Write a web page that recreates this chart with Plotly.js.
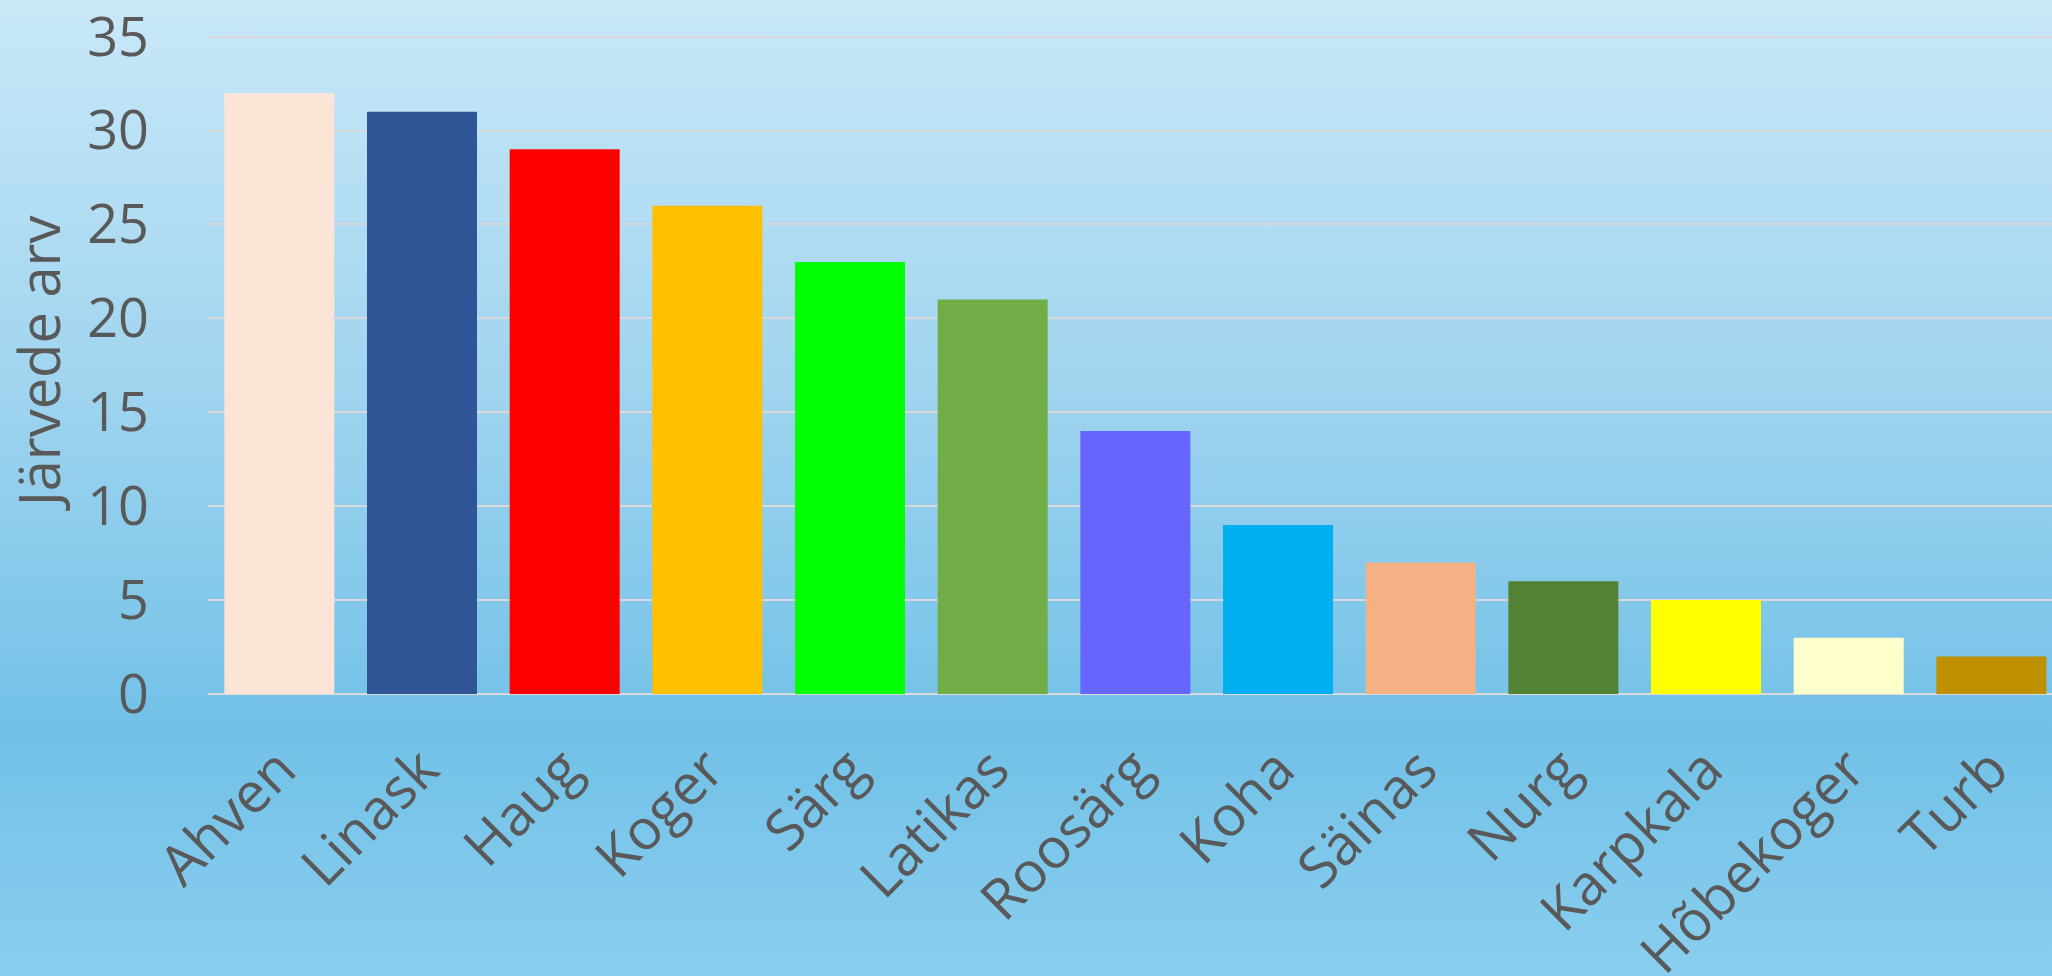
<!DOCTYPE html>
<html>
<head>
<meta charset="utf-8">
<script src="https://cdn.plot.ly/plotly-3.0.1.min.js"></script>
<style>
  html, body { margin: 0; padding: 0; }
  #chart {
    width: 2052px; height: 976px;
    background: linear-gradient(to bottom, #c9e8f8 0%, #9fd4ef 40%, #72c1e8 75%, #89ceee 100%);
  }
</style>
</head>
<body>
<div id="chart"></div>
<script>
const categories = ["Ahven", "Linask", "Haug", "Koger", "Särg", "Latikas", "Roosärg", "Koha", "Säinas", "Nurg", "Karpkala", "Hõbekoger", "Turb"];
const values = [32, 31, 29, 26, 23, 21, 14, 9, 7, 6, 5, 3, 2];
const barColors = ["#FCE4D6", "#2F5597", "#FF0000", "#FFC000", "#00FF00", "#70AD47", "#6666FF", "#00B0F0", "#F4B183", "#548235", "#FFFF00", "#FFFFCC", "#BF9000"];
const yTicks = [0, 5, 10, 15, 20, 25, 30, 35];
const yTitle = "Järvede arv";

const fontFamily = "'Open Sans', Lato, sans-serif";
const textColor = "#595959";

const trace = {
  type: "bar",
  x: categories,
  y: values,
  marker: { color: barColors, line: { width: 0 } },
  hoverinfo: "x+y"
};

const layout = {
  width: 2052,
  height: 976,
  margin: { l: 208, r: 0, t: 28, b: 282, pad: 0 },
  paper_bgcolor: "rgba(0,0,0,0)",
  plot_bgcolor: "rgba(0,0,0,0)",
  bargap: 0.229,
  showlegend: false,
  font: { family: fontFamily, color: textColor },
  xaxis: {
    type: "category",
    range: [-0.5, 12.425],
    tickangle: -45,
    tickfont: { size: 56, color: textColor, family: fontFamily },
    ticks: "",
    ticklabelstandoff: 30,
    ticklabeloverflow: "allow",
    showgrid: false,
    showline: false,
    zeroline: false,
    automargin: false,
    fixedrange: true
  },
  yaxis: {
    range: [0, 35.46],
    tickvals: yTicks,
    ticktext: yTicks.map(String),
    tickfont: { size: 54, color: textColor, family: fontFamily },
    ticks: "",
    ticklabelstandoff: 58,
    ticklabeloverflow: "allow",
    showgrid: true,
    gridcolor: "#D9D9D9",
    gridwidth: 2,
    zeroline: true,
    zerolinecolor: "#D9D9D9",
    zerolinewidth: 2,
    showline: false,
    automargin: false,
    title: { text: yTitle, font: { size: 56, color: textColor, family: fontFamily }, standoff: 20 },
    fixedrange: true
  }
};

Plotly.newPlot("chart", [trace], layout, { displayModeBar: false, staticPlot: true });
</script>
</body>
</html>
